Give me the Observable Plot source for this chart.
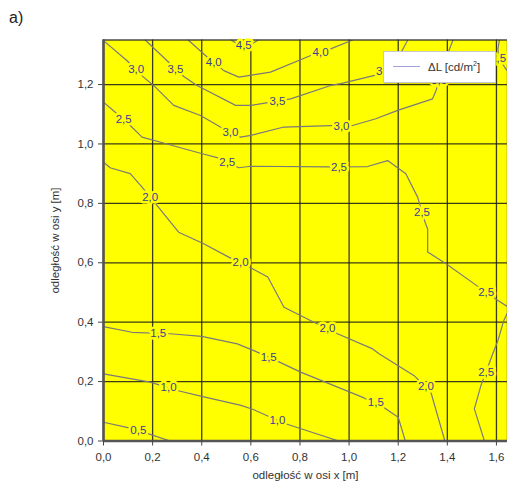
<!DOCTYPE html>
<html>
<head>
<meta charset="utf-8">
<script src="https://cdn.jsdelivr.net/npm/d3@7"></script>
<script src="https://cdn.jsdelivr.net/npm/@observablehq/plot@0.6"></script>
<style>
  body { margin: 0; background: #fff; }
  #wrap { position: relative; width: 507px; height: 481px; font-family: "Liberation Sans", Arial, sans-serif; }
  #panel { position: absolute; left: 9px; top: 9px; font-size: 16px; color: #222; }
  #legend { position: absolute; left: 383px; top: 51px; width: 111px; height: 30px; background: #fff;
            border: 1px solid #c8c8c8; box-shadow: 1px 1px 1px rgba(0,0,0,0.15); font-size: 11.5px; color: #333; }
  #legend .sw { position: absolute; left: 9px; top: 14px; width: 27px; height: 0; border-top: 1.5px solid #a0a0dc; }
  #legend .tx { position: absolute; left: 44px; top: 8px; white-space: nowrap; }
  #legend sup { font-size: 7px; vertical-align: 5px; }
</style>
</head>
<body>
<div id="wrap">
  <div id="chart"></div>
  <div id="panel">a)</div>
  <div id="legend"><div class="sw"></div><div class="tx">ΔL [cd/m<sup>2</sup>]</div></div>
</div>
<script>
// Axis ticks
const xTicks = [0, 0.2, 0.4, 0.6, 0.8, 1.0, 1.2, 1.4, 1.6];
const yTicks = [0, 0.2, 0.4, 0.6, 0.8, 1.0, 1.2];

// Contour polylines: [x (m), y (m)]
const c05 = [[0,0.063],[0.095,0.046],[0.184,0.024],[0.272,0]];
const c10 = [[0,0.226],[0.19,0.198],[0.30,0.17],[0.40,0.15],[0.56,0.12],[0.61,0.106],[0.68,0.08],[0.742,0.058],[0.958,0]];
const c15 = [[0,0.385],[0.116,0.366],[0.272,0.361],[0.40,0.352],[0.545,0.327],[0.61,0.305],[0.708,0.269],[0.803,0.232],[1.061,0.145],[1.143,0.112],[1.20,0.08],[1.229,0]];
const c20 = [[0,0.939],[0.027,0.92],[0.109,0.90],[0.157,0.855],[0.211,0.80],[0.306,0.703],[0.408,0.664],[0.51,0.619],[0.599,0.583],[0.669,0.552],[0.735,0.45],[0.857,0.40],[0.953,0.361],[1.096,0.31],[1.122,0.294],[1.265,0.22],[1.333,0.164],[1.39,0]];
const c25a = [[0,1.141],[0.048,1.107],[0.109,1.062],[0.157,1.023],[0.259,1.0],[0.402,0.967],[0.463,0.954],[0.551,0.92],[0.6,0.925],[0.918,0.923],[1.075,0.924],[1.157,0.944],[1.231,0.90],[1.279,0.821],[1.309,0.737],[1.32,0.714],[1.32,0.636],[1.395,0.597],[1.51,0.529],[1.606,0.473],[1.65,0.45]];
const c25b = [[1.65,0.44],[1.63,0.406],[1.606,0.338],[1.585,0.294],[1.537,0.187],[1.51,0.108],[1.551,0]];
const c25c = [[1.612,1.35],[1.606,1.32],[1.61,1.29],[1.633,1.259],[1.65,1.24]];
const c30 = [[0,1.348],[0.095,1.281],[0.163,1.225],[0.204,1.197],[0.286,1.13],[0.395,1.096],[0.476,1.057],[0.558,1.023],[0.6,1.029],[0.735,1.057],[0.925,1.062],[1.014,1.062],[1.109,1.085],[1.198,1.113],[1.34,1.152],[1.354,1.18],[1.367,1.214],[1.40,1.30],[1.423,1.35]];
const c35 = [[0.17,1.35],[0.259,1.28],[0.327,1.227],[0.381,1.197],[0.538,1.13],[0.6,1.13],[0.626,1.133],[0.762,1.152],[0.925,1.197],[0.966,1.203],[1.129,1.236],[1.20,1.29],[1.239,1.35]];
const c40 = [[0.345,1.35],[0.415,1.298],[0.49,1.247],[0.551,1.225],[0.68,1.242],[0.844,1.298],[0.925,1.32],[1.014,1.35]];
const c45 = [[0.52,1.35],[0.548,1.335],[0.60,1.335],[0.63,1.35]];

// Contour labels: [x, y, text]
const contourLabels = [
  [0.142,0.035,"0,5"],
  [0.265,0.181,"1,0"],[0.708,0.071,"1,0"],
  [0.223,0.362,"1,5"],[0.673,0.282,"1,5"],[1.109,0.13,"1,5"],
  [0.19,0.821,"2,0"],[0.558,0.600,"2,0"],[0.912,0.378,"2,0"],[1.313,0.185,"2,0"],
  [0.082,1.083,"2,5"],[0.504,0.939,"2,5"],[0.959,0.922,"2,5"],[1.297,0.77,"2,5"],[1.558,0.501,"2,5"],[1.558,0.232,"2,5"],[1.607,1.29,"2,5"],
  [0.133,1.25,"3,0"],[0.517,1.04,"3,0"],[0.969,1.06,"3,0"],[1.367,1.215,"3,0"],
  [0.293,1.253,"3,5"],[0.708,1.145,"3,5"],[1.142,1.245,"3,5"],
  [0.449,1.274,"4,0"],[0.884,1.309,"4,0"],
  [0.571,1.333,"4,5"]
];

const contourSets = {c05, c10, c15, c20, c25a, c25b, c25c, c30, c35, c40, c45};
const lineRows = Object.entries(contourSets).flatMap(([id, pts]) => pts.map(([x, y]) => ({id, x, y})));
const labelRows = contourLabels.map(([x, y, t]) => ({x, y, t}));
const fmt = d => d.toFixed(1).replace(".", ",");

const chart = Plot.plot({
  width: 507, height: 481,
  marginLeft: 103, marginRight: 0, marginTop: 39.5, marginBottom: 40.5,
  x: {domain: [0, 1.645]},
  y: {domain: [0, 1.35]},
  style: {fontFamily: "'Liberation Sans', Arial, sans-serif", fontSize: "11.5px", color: "#333", background: "transparent"},
  marks: [
    Plot.frame({fill: "#ffff00"}),
    Plot.gridX(xTicks, {stroke: "#1a1a1a", strokeOpacity: 0.85, strokeWidth: 1.3}),
    Plot.gridY(yTicks, {stroke: "#1a1a1a", strokeOpacity: 0.85, strokeWidth: 1.3}),
    Plot.line(lineRows, {x: "x", y: "y", z: "id", stroke: "#7a7a7a", strokeWidth: 1.2, clip: true}),
    Plot.frame({stroke: "#333", strokeWidth: 1.3}),
    Plot.ruleX([0], {stroke: "#555", strokeWidth: 2.5}),
    Plot.ruleY([0], {stroke: "#555", strokeWidth: 2.5}),
    Plot.text(labelRows, {x: "x", y: "y", text: "t", fill: "#3b3b9a", stroke: "#ffff00", strokeWidth: 5, fontSize: 11.5}),
    Plot.axisX(xTicks, {tickFormat: fmt, tickSize: 5, tickPadding: 7, stroke: "#444", fontSize: 11.5, label: "odległość w osi x [m]", labelAnchor: "center", labelOffset: 38, labelArrow: "none"}),
    Plot.axisY(yTicks, {tickFormat: fmt, tickSize: 5, tickPadding: 5, stroke: "#444", fontSize: 11.5, label: "odległość w osi y [m]", labelAnchor: "center", labelOffset: 53, labelArrow: "none"})
  ]
});
document.getElementById("chart").appendChild(chart);
</script>
</body>
</html>
